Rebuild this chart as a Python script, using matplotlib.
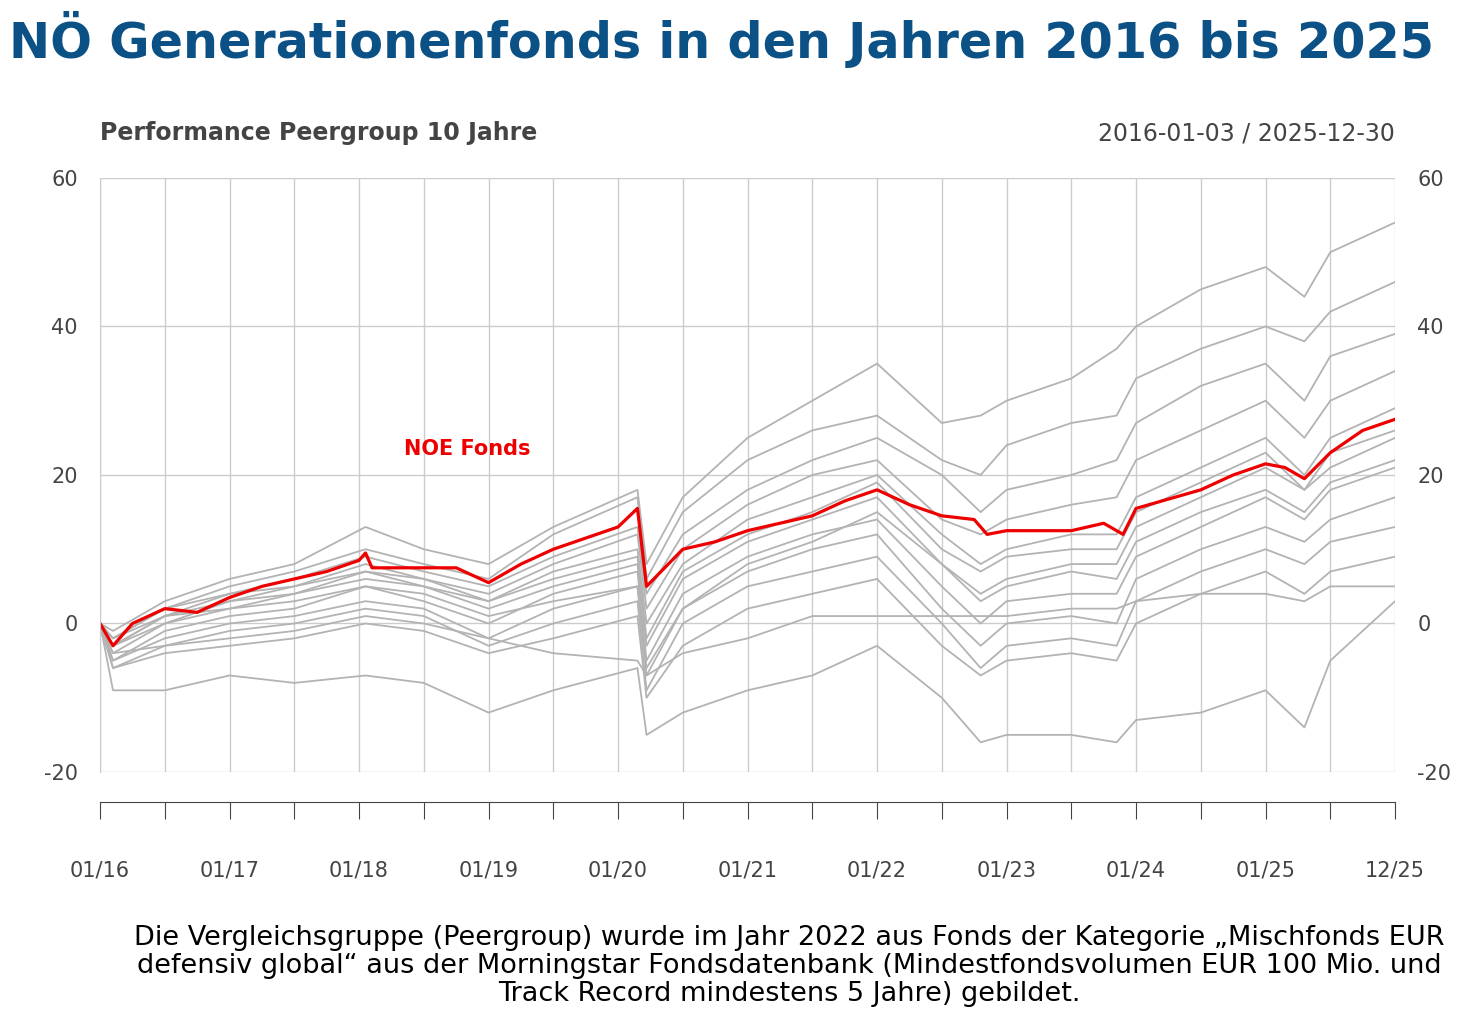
import numpy as np
import matplotlib.pyplot as plt

# Zeitpunkte (Jahresbruchteile) für die Peergroup-Linien
peer_x = [2016.0, 2016.1, 2016.5, 2017.0, 2017.5, 2018.05, 2018.5, 2019.0, 2019.5, 2020.15,
          2020.22, 2020.5, 2021.0, 2021.5, 2022.0, 2022.5, 2022.8, 2023.0, 2023.5, 2023.85,
          2024.0, 2024.5, 2025.0, 2025.3, 2025.5, 2026.0]
peer_1 = [0, -1, 3, 6, 8, 13, 10, 8, 13, 18, 8, 17, 25, 30, 35, 27, 28, 30, 33, 37, 40, 45, 48, 44, 50, 54]
peer_2 = [0, -2, 2, 5, 7, 10, 8, 6, 12, 17, 6, 15, 22, 26, 28, 22, 20, 24, 27, 28, 33, 37, 40, 38, 42, 46]
peer_3 = [0, -2, 2, 4, 6, 9, 7, 5, 9, 13, 4, 12, 18, 22, 25, 20, 15, 18, 20, 22, 27, 32, 35, 30, 36, 39]
peer_4 = [0, -3, 1, 4, 5, 8, 6, 4, 8, 12, 2, 10, 16, 20, 22, 14, 12, 14, 16, 17, 22, 26, 30, 25, 30, 34]
peer_5 = [0, -4, 0, 3, 4, 7, 5, 3, 7, 10, 0, 8, 14, 17, 20, 12, 8, 10, 12, 12, 17, 21, 25, 20, 25, 29]
peer_6 = [0, -3, 1, 2, 4, 6, 5, 2, 5, 8, -3, 6, 11, 14, 17, 8, 4, 6, 8, 8, 13, 17, 21, 18, 21, 25]
peer_7 = [0, -5, -1, 1, 2, 5, 3, 0, 4, 7, -5, 4, 9, 12, 14, 5, 0, 3, 4, 4, 9, 13, 17, 14, 18, 21]
peer_8 = [0, -5, -2, 0, 1, 3, 2, -2, 2, 5, -7, 2, 7, 10, 12, 2, -3, 0, 1, 0, 6, 10, 13, 11, 14, 17]
peer_9 = [0, -6, -3, -1, 0, 2, 1, -3, 0, 3, -9, 0, 5, 7, 9, 0, -6, -3, -2, -3, 3, 7, 10, 8, 11, 13]
peer_10 = [0, -6, -4, -3, -2, 0, -1, -4, -2, 1, -10, -3, 2, 4, 6, -3, -7, -5, -4, -5, 0, 4, 7, 4, 7, 9]
peer_11 = [0, -4, -3, -2, -1, 1, 0, -2, -4, -5, -7, -4, -2, 1, 1, 1, 1, 1, 2, 2, 3, 4, 4, 3, 5, 5]
peer_12 = [0, -9, -9, -7, -8, -7, -8, -12, -9, -6, -15, -12, -9, -7, -3, -10, -16, -15, -15, -16, -13, -12, -9, -14, -5, 3]
peer_13 = [0, -3, 0, 2, 3, 5, 4, 1, 3, 5, -6, 2, 8, 11, 15, 8, 3, 5, 7, 6, 11, 15, 18, 15, 19, 22]
peer_14 = [0, -2, 1, 3, 5, 7, 6, 3, 6, 9, -2, 7, 12, 15, 19, 10, 7, 9, 10, 10, 15, 19, 23, 18, 23, 26]
peers = [peer_1, peer_2, peer_3, peer_4, peer_5, peer_6, peer_7, peer_8, peer_9, peer_10,
         peer_11, peer_12, peer_13, peer_14]

# NOE Fonds
noe_x = [2016.0, 2016.1, 2016.25, 2016.5, 2016.75, 2017.0, 2017.25, 2017.5, 2017.75, 2018.0,
         2018.05, 2018.1, 2018.5, 2018.75, 2019.0, 2019.25, 2019.5, 2019.75, 2020.0, 2020.15,
         2020.22, 2020.5, 2020.75, 2021.0, 2021.5, 2021.75, 2022.0, 2022.25, 2022.5, 2022.75,
         2022.85, 2023.0, 2023.5, 2023.75, 2023.9, 2024.0, 2024.5, 2024.75, 2025.0, 2025.15,
         2025.3, 2025.5, 2025.75, 2026.0]
noe_y = [0, -3, 0, 2, 1.5, 3.5, 5, 6, 7, 8.5, 9.5, 7.5, 7.5, 7.5, 5.5, 8, 10, 11.5, 13, 15.5,
         5, 10, 11, 12.5, 14.5, 16.5, 18, 16, 14.5, 14, 12, 12.5, 12.5, 13.5, 12, 15.5, 18, 20,
         21.5, 21, 19.5, 23, 26, 27.5]

x_ticks = [2016 + 0.5 * i for i in range(21)]
x_labels = ["01/16", "01/17", "01/18", "01/19", "01/20", "01/21", "01/22", "01/23", "01/24", "01/25", "12/25"]
x_label_pos = [2016, 2017, 2018, 2019, 2020, 2021, 2022, 2023, 2024, 2025, 2026]

fig = plt.figure(figsize=(14.8, 10.31), dpi=100)
fig.text(0.006, 0.962, "NÖ Generationenfonds in den Jahren 2016 bis 2025", fontsize=35.5,
         fontweight="bold", color="#0b5186", va="center")

ax = fig.add_axes([0.0676, 0.2512, 0.875, 0.5762])
for p in peers:
    ax.plot(peer_x, p, color="#b3b3b3", lw=1.3)
ax.plot(noe_x, noe_y, color="#ee0000", lw=2.3)
ax.text(2018.35, 23.5, "NOE Fonds", color="#ee0000", fontsize=15, fontweight="bold", va="center")
ax.set_xlim(2016, 2026)
ax.set_ylim(-20, 60)
ax.set_yticks([-20, 0, 20, 40, 60])
ax.set_yticklabels(["-20", "0", "20", "40", "60"])
ax.set_xticks(x_ticks)
ax.tick_params(axis="x", length=0, labelbottom=False)
ax.tick_params(axis="y", length=0, labelright=True, labelsize=15, labelcolor="#444444", pad=16)
ax.grid(True, color="#cccccc", lw=1)
for s in ["top", "right", "bottom"]:
    ax.spines[s].set_visible(False)
ax.spines["left"].set_color("#cccccc")
ax.text(0, 1.075, "Performance Peergroup 10 Jahre", transform=ax.transAxes, fontsize=17,
        fontweight="bold", color="#444444", va="center")
ax.text(1, 1.075, "2016-01-03 / 2025-12-30", transform=ax.transAxes, fontsize=17,
        color="#444444", va="center", ha="right")

tax = fig.add_axes([0.0676, 0.222, 0.875, 0.001])
tax.set_xlim(2016, 2026)
tax.set_xticks(x_ticks)
tax.set_yticks([])
tax.tick_params(axis="x", direction="out", length=12, color="#444444", labelbottom=False)
for s in ["top", "right", "left"]:
    tax.spines[s].set_visible(False)
tax.spines["bottom"].set_color("#444444")
for xp, lab in zip(x_label_pos, x_labels):
    fig.text(0.0676 + 0.875 * (xp - 2016) / 10, 0.156, lab, ha="center", va="center",
             fontsize=15, color="#444444")

fig.text(0.533, 0.063, "Die Vergleichsgruppe (Peergroup) wurde im Jahr 2022 aus Fonds der Kategorie „Mischfonds EUR\n"
         "defensiv global“ aus der Morningstar Fondsdatenbank (Mindestfondsvolumen EUR 100 Mio. und\n"
         "Track Record mindestens 5 Jahre) gebildet.", ha="center", va="center", fontsize=19.5,
         linespacing=1.1)

fig.savefig("out.png", dpi=100)
